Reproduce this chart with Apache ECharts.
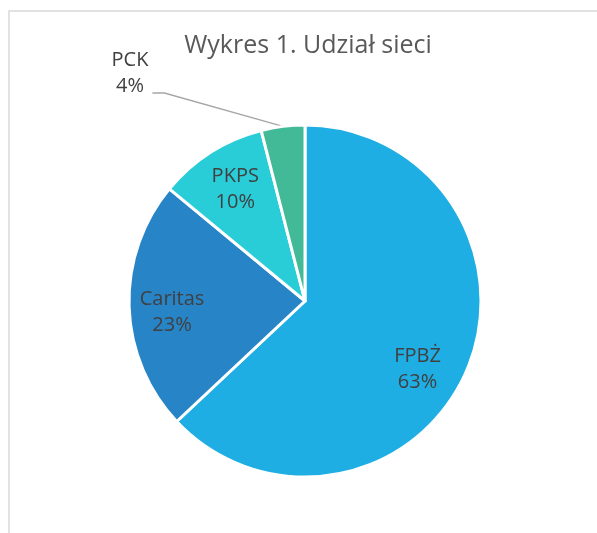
<!DOCTYPE html>
<html>
<head>
<meta charset="utf-8">
<script src="https://cdn.jsdelivr.net/npm/echarts@6/dist/echarts.min.js"></script>
<style>
  html, body { margin: 0; padding: 0; background: #fff; }
  #chart { width: 597px; height: 533px; }
</style>
</head>
<body>
<div id="chart"></div>
<script>
(function () {
  var names = ['FPBŻ', 'Caritas', 'PKPS', 'PCK'];
  var shares = [63, 23, 10, 4];
  var colors = ['#1faee3', '#2784c7', '#29cdd8', '#43ba97'];

  // label nudges so the inside labels sit where the original put them
  var offsets = [[29, 32], [-42, 8], [-21, -35], [0, 0]];
  var font = '"Open Sans", Lato, sans-serif';

  var myChart = echarts.init(document.getElementById('chart'));
  var option = {
    backgroundColor: '#fff',
    title: {
      text: 'Wykres 1. Udział sieci',
      left: 303,
      textAlign: 'center',
      top: 28,
      textStyle: {
        color: '#595959',
        fontFamily: font,
        fontSize: 25,
        fontWeight: 'normal'
      }
    },
    graphic: [{
      type: 'rect',
      shape: { x: 9, y: 11, width: 700, height: 700 },
      style: { fill: 'none', stroke: '#d9d9d9', lineWidth: 1.5 },
      silent: true
    }],
    series: [{
      type: 'pie',
      center: [305, 301],
      radius: 176,
      startAngle: 90,
      clockwise: true,
      animation: false,
      itemStyle: { borderColor: '#fff', borderWidth: 3 },
      label: {
        position: 'inside',
        formatter: '{b}\n{d}%',
        color: '#404040',
        fontFamily: font,
        fontSize: 20,
        lineHeight: 26
      },
      labelLine: { show: false },
      labelLayout: function (params) {
        if (params.dataIndex === 3) {
          return { x: 132, y: 47, align: 'center', verticalAlign: 'top' };
        }
      },
      data: names.map(function (n, i) {
        var item = {
          name: n,
          value: shares[i],
          itemStyle: { color: colors[i] },
          label: { offset: offsets[i] }
        };
        if (i === 3) {
          // transparent padded box so the leader line leaves at the "4%" line
          item.label = {
            position: 'outside',
            align: 'center',
            verticalAlign: 'top',
            backgroundColor: 'rgba(255,255,255,0)',
            padding: [0, 4, 40, 0]
          };
          item.labelLine = {
            show: true,
            length: 10,
            length2: 12,
            lineStyle: { color: '#a6a6a6', width: 1.3 }
          };
        }
        return item;
      })
    }]
  };
  myChart.setOption(option);
})();
</script>
</body>
</html>
